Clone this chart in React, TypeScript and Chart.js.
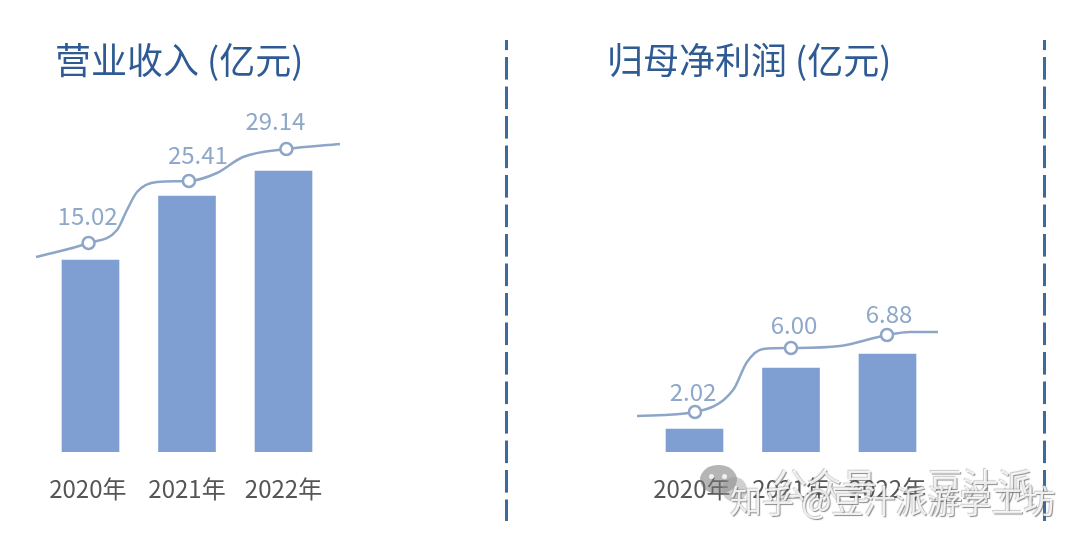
import { useEffect, useRef } from "react";
import { Chart, registerables } from "chart.js";

Chart.register(...registerables);

// the first label sits a little left of its bar in the source, hence the trailing space
const years = ["2020年 ", "2021年", "2022年"];
const barSlots = [0, 1, 2];

// bar heights: the source bars are not in proportion to their labels
const revenueBars = [19.2, 25.6, 28.1];
const revenueLabels = ["15.02", "25.41", "29.14"];
const revenueLineX = [-0.565, -0.02, 0.275, 0.378, 0.482, 0.689, 1.02, 1.31, 1.58, 2.03, 2.585];
const revenueLineY = [19.5, 20.9, 22.2, 24.2, 26.0, 27.0, 27.1, 27.9, 29.5, 30.3, 30.8];
const revenueMarkers = [1, 6, 9];
const revenueLabelShift = [[-1, -27], [9, -26], [-11, -28]];

const profitBars = [2.3, 8.4, 9.8];
const profitLabels = ["2.02", "6.00", "6.88"];
const profitLineX = [-0.596, 0.005, 0.4, 0.544, 0.71, 1.0, 1.508, 1.995, 2.233, 2.523];
const profitLineY = [3.6, 4.0, 6.2, 9.0, 10.3, 10.4, 10.6, 11.7, 12.0, 12.0];
const profitMarkers = [1, 5, 7];
const profitLabelShift = [[-2, -20], [3, -23], [2, -21]];

const FONT = '"Noto Sans CJK SC", "Noto Sans", sans-serif';
const BAR_COLOR = "#7f9fd3";
const LINE_COLOR = "#8da6c8";
const LABEL_COLOR = "#8ea8ca";
const TITLE_COLOR = "#2f5b94";
const TICK_COLOR = "#555555";
const DASH_COLOR = "#3c6a9a";

const SLOT_WIDTH = 96.5;
const CANVAS_WIDTH = 500;
const CANVAS_HEIGHT = 520;

type PanelProps = {
  left: number;
  firstBarAt: number;
  bars: number[];
  labels: string[];
  lineX: number[];
  lineY: number[];
  markers: number[];
  labelShift: number[][];
};

const Panel = ({ left, firstBarAt, bars, labels, lineX, lineY, markers, labelShift }: PanelProps) => {
  const chartRef = useRef<HTMLCanvasElement | null>(null);

  useEffect(() => {
    if (!chartRef.current) return;

    // value labels sit above the hollow markers
    const valueLabels = {
      id: "valueLabels",
      afterDatasetsDraw(chart: Chart) {
        const points = chart.getDatasetMeta(1).data;
        const ctx = chart.ctx;
        ctx.save();
        ctx.font = `24px ${FONT}`;
        ctx.fillStyle = LABEL_COLOR;
        ctx.textAlign = "center";
        ctx.textBaseline = "middle";
        markers.forEach((m, i) => {
          ctx.fillText(labels[i], points[m].x + labelShift[i][0], points[m].y + labelShift[i][1]);
        });
        ctx.restore();
      },
    };

    const chart = new Chart(chartRef.current, {
      type: "bar",
      data: {
        datasets: [
          {
            type: "bar",
            data: barSlots.map((x, i) => ({ x, y: bars[i] })),
            backgroundColor: BAR_COLOR,
            barThickness: 57,
            order: 1,
          },
          {
            type: "line",
            data: lineX.map((x, i) => ({ x, y: lineY[i] })),
            borderColor: LINE_COLOR,
            borderWidth: 2.5,
            cubicInterpolationMode: "monotone",
            pointRadius: lineX.map((_, i) => (markers.includes(i) ? 6 : 0)),
            pointBorderWidth: 2.5,
            pointBorderColor: LINE_COLOR,
            pointBackgroundColor: "#ffffff",
            order: 0,
          },
        ] as any,
      },
      options: {
        animation: false,
        responsive: false,
        layout: { padding: 0 },
        plugins: { legend: { display: false }, tooltip: { enabled: false } },
        scales: {
          x: {
            type: "linear",
            offset: false,
            min: -firstBarAt / SLOT_WIDTH,
            max: (CANVAS_WIDTH - firstBarAt) / SLOT_WIDTH,
            grid: { display: false },
            border: { display: false },
            afterFit: (scale: any) => {
              scale.height = 68;
            },
            ticks: {
              stepSize: 1,
              includeBounds: false,
              autoSkip: false,
              maxRotation: 0,
              padding: 14,
              color: TICK_COLOR,
              font: { family: FONT, size: 24 },
              callback: (value: any) => years[value] ?? "",
            },
          },
          y: { display: false, min: 0, max: 45.2 },
        },
      },
      plugins: [valueLabels],
    });

    return () => {
      chart.destroy();
    };
  }, []);

  return (
    <canvas
      ref={chartRef}
      width={CANVAS_WIDTH}
      height={CANVAS_HEIGHT}
      style={{ position: "absolute", left, top: 0, width: CANVAS_WIDTH, height: CANVAS_HEIGHT }}
    />
  );
};

const titleStyle = (left: number): React.CSSProperties => ({
  position: "absolute",
  left,
  top: 32,
  font: `36px ${FONT}`,
  lineHeight: "52px",
  color: TITLE_COLOR,
  whiteSpace: "nowrap",
});

const dashStyle = (left: number): React.CSSProperties => ({
  position: "absolute",
  left,
  top: 40,
  width: 3,
  height: 481,
  backgroundImage: `linear-gradient(to bottom, ${DASH_COLOR} 0 22.5px, transparent 22.5px)`,
  backgroundSize: "3px 29.5px",
  backgroundPosition: "0 -12.5px",
});

const ghostText: React.CSSProperties = {
  position: "absolute",
  whiteSpace: "nowrap",
  color: "rgba(255,255,255,0.85)",
  textShadow: "1px 1px 1px rgba(90,90,90,0.7), -1px -1px 1px rgba(150,150,150,0.5)",
};

const bubble = (left: number, top: number, w: number, h: number, bg: string): React.CSSProperties => ({
  position: "absolute",
  left,
  top,
  width: w,
  height: h,
  borderRadius: "50%",
  background: bg,
});

export default function App() {
  return (
    <div style={{ position: "fixed", left: 0, top: 0, width: 1080, height: 543, background: "#ffffff", overflow: "hidden" }}>
      <Panel
        left={0}
        firstBarAt={90.5}
        bars={revenueBars}
        labels={revenueLabels}
        lineX={revenueLineX}
        lineY={revenueLineY}
        markers={revenueMarkers}
        labelShift={revenueLabelShift}
      />
      <Panel
        left={510}
        firstBarAt={184.5}
        bars={profitBars}
        labels={profitLabels}
        lineX={profitLineX}
        lineY={profitLineY}
        markers={profitMarkers}
        labelShift={profitLabelShift}
      />
      <div style={titleStyle(55)}>营业收入 (亿元)</div>
      <div style={titleStyle(607)}>归母净利润 (亿元)</div>
      <div style={dashStyle(505)} />
      <div style={dashStyle(1043)} />
      {/* watermark */}
      <div style={bubble(700, 465, 37, 29, "rgba(120,120,120,0.55)")} />
      <div style={bubble(709, 474, 5, 5, "rgba(255,255,255,0.8)")} />
      <div style={bubble(722, 474, 5, 5, "rgba(255,255,255,0.8)")} />
      <div style={bubble(722, 477, 25, 25, "rgba(150,150,150,0.45)")} />
      <div style={{ ...ghostText, left: 772, top: 458, font: `35px ${FONT}` }}>公众号</div>
      <div style={{ ...ghostText, left: 928, top: 458, font: `35px ${FONT}` }}>豆汁派</div>
      <div style={{ ...ghostText, left: 730, top: 476, font: `32px ${FONT}` }}>知乎 @豆汁派游学工坊</div>
    </div>
  );
}
